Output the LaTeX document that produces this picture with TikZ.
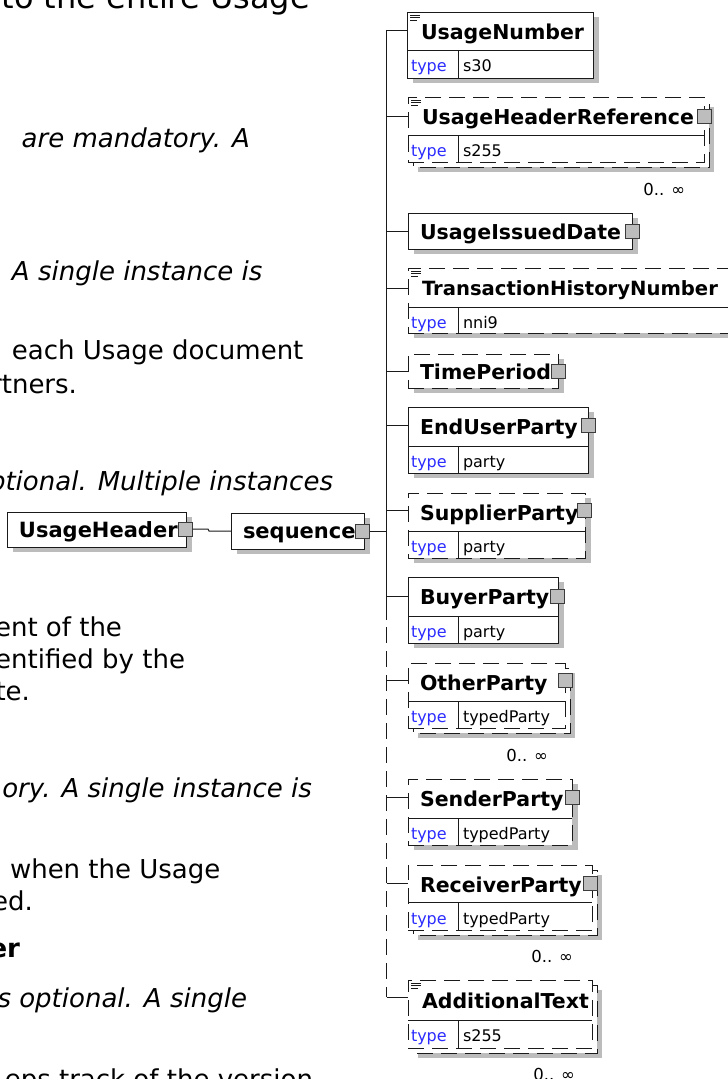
\documentclass[tikz,border=0pt]{standalone}
\usepackage{fontspec}
\setmainfont{DejaVu Sans}
\usetikzlibrary{calc}
\definecolor{shadowc}{HTML}{BCBCBC}
\definecolor{sqfill}{HTML}{BDBDBD}
\definecolor{sqdraw}{HTML}{3C3C3C}
\definecolor{typec}{HTML}{2B2BFF}
\definecolor{linec}{HTML}{1A1A1A}
\tikzset{
 bodyt/.style={font=\fontsize{26}{30}\selectfont, inner sep=0pt, outer sep=0pt},
 bodyl/.style={font=\fontsize{32}{36}\selectfont, inner sep=0pt, outer sep=0pt},
 bodyi/.style={font=\fontsize{26}{30}\selectfont\itshape, inner sep=0pt, outer sep=0pt},
 bodyb/.style={font=\fontsize{26}{30}\selectfont\bfseries, inner sep=0pt, outer sep=0pt},
 boxs/.style={draw=linec, line width=1pt, fill=white, inner sep=0pt, outer sep=0pt},
 boxd/.style={boxs, dash pattern=on 16pt off 8pt},
 dashl/.style={draw=linec, line width=1pt, dash pattern=on 16pt off 8pt},
 conn/.style={draw=linec, line width=1pt},
 ename/.style={font=\fontsize{20.5}{24}\selectfont\bfseries, inner sep=0pt, outer sep=0pt, anchor=base west},
 enames/.style={font=\fontsize{19.6}{24}\selectfont\bfseries, inner sep=0pt, outer sep=0pt, anchor=base west},
 hname/.style={font=\fontsize{21}{24}\selectfont\bfseries, inner sep=0pt, outer sep=0pt, anchor=base west},
 typel/.style={font=\fontsize{16}{18}\selectfont, text=typec, inner sep=0pt, outer sep=0pt, anchor=base west},
 typev/.style={font=\fontsize{16}{18}\selectfont, inner sep=0pt, outer sep=0pt, anchor=base west},
 occ/.style={font=\fontsize{16.5}{18}\selectfont, inner sep=0pt, outer sep=0pt, anchor=base east},
 sq/.style={draw=sqdraw, fill=sqfill, line width=0.9pt, minimum size=14pt, inner sep=0pt, outer sep=0pt},
 icon/.style={draw=linec, line width=0.9pt},
}
\newcommand\mkbox[6]{\node[#6, minimum width={(#4)-(#2)}, minimum height={(#5)-(#3)}] (#1) at ({((#2)+(#4))/2},{((#3)+(#5))/2}) {};}
\newcommand\shad[4]{\fill[shadowc] ({#1+6},{#2+5}) rectangle ({#3+6},{#4+5});}
\newcommand\stackbk[4]{\fill[shadowc] ({#1+10},{#2+10}) rectangle ({#3+10},{#4+10});
  \draw[dashl, fill=white] ({#1+5},{#2+5}) rectangle ({#3+5},{#4+5});}
\newcommand\trow[6]{\draw[conn] (#2,#4) -- (#3,#4); \draw[conn] (458,#4) -- (458,#5);
  \node[typel] (#1-tl) at (411,{#4+21.5}) {type};
  \node[typev] (#1-tv) at (463,{#4+21.5}) {#6};}
\newcommand\docicon[2]{\draw[icon] ({#1+3},{#2+3}) -- ++(10,0) ({#1+3},{#2+5.5}) -- ++(10,0) ({#1+3},{#2+8}) -- ++(7,0);}
\begin{document}
\begin{tikzpicture}[x=1pt,y=-1pt]
\useasboundingbox (0,0) rectangle (728,1079);
\fill[white] (0,0) rectangle (728,1079);
\clip (0,0) rectangle (728,1079);
% left page text fragments
\node[bodyl, anchor=base east] (l1) at (310,8) {to the entire Usage};
\node[bodyi, anchor=base east] (l2) at (250,147) {are mandatory. A};
\node[bodyi, anchor=base west] (l3) at (12,280) {A single instance is};
\node[bodyt, anchor=base west] (l4) at (12,359) {each Usage document};
\node[bodyt, anchor=base east] (l5) at (77,393) {rtners.};
\node[bodyi, anchor=base east] (l6) at (333,490) {ptional. Multiple instances};
\node[bodyt, anchor=base east] (l7) at (122,636) {ent of the};
\node[bodyt, anchor=base east] (l8) at (185,668) {entified by the};
\node[bodyt, anchor=base east] (l9) at (30,700) {te.};
\node[bodyi, anchor=base east] (l10) at (312,797) {ory. A single instance is};
\node[bodyt, anchor=base west] (l11) at (10,878) {when the Usage};
\node[bodyt, anchor=base east] (l12) at (33,910) {ed.};
\node[bodyb, anchor=base east] (l13) at (20,957) {er};
\node[bodyi, anchor=base east] (l14) at (247,1007) {s optional. A single};
\node[bodyt, anchor=base east] (l15) at (313,1088) {eps track of the version};
% spine
\coordinate (sp1) at (386.5,30);
\coordinate (sp2) at (386.5,116);
\coordinate (sp3) at (386.5,231);
\coordinate (sp4) at (386.5,288);
\coordinate (sp5) at (386.5,371);
\coordinate (sp6) at (386.5,425);
\coordinate (spq) at (386.5,531);
\coordinate (sp7) at (386.5,510);
\coordinate (sp8) at (386.5,596);
\coordinate (spm) at (386.5,620);
\coordinate (spd) at (386.5,627);
\coordinate (sp9) at (386.5,680);
\coordinate (sp10) at (386.5,797);
\coordinate (sp11) at (386.5,883);
\coordinate (sp12) at (386.5,997);
\draw[conn] (sp1) -- (spm);
\draw[dashl] (spd) -- (sp12);
% UsageHeader and sequence
\shad{7}{512}{186}{547}
\mkbox{uh}{7}{512}{186}{547}{boxs}
\node[hname] (uh-t) at (19,537) {UsageHeader};
\node[sq] (uh-sq) at (185.5,529) {};
\shad{231}{513}{364}{549}
\mkbox{seq}{231}{513}{364}{549}{boxs}
\node[hname] (seq-t) at (243,538) {sequence};
\node[sq] (seq-sq) at (362.5,531) {};
\draw[conn] (uh-sq.east) -- (208,529) -- (209,531) -- (seq.west);
\draw[conn] (seq-sq.east) -- (spq);
% 1 UsageNumber
\shad{407}{12}{593}{78}
\mkbox{un}{407}{12}{593}{78}{boxs}
\docicon{407}{12}
\node[ename] (un-t) at (421,39.5) {UsageNumber};
\trow{un}{407}{593}{50}{78}{s30}
% 2 UsageHeaderReference
\stackbk{408}{97}{704}{162}
\mkbox{uhr}{408}{97}{704}{162}{boxd}
\docicon{408}{97}
\node[ename] (uhr-t) at (422,124.5) {UsageHeaderReference};
\trow{uhr}{408}{704}{135}{162}{s255}
\node[sq] (uhr-sq) at (704,116) {};
\node[occ] (uhr-o) at (685,195) {0.. ∞};
% 3 UsageIssuedDate
\shad{408}{213}{632}{249}
\mkbox{uid}{408}{213}{632}{249}{boxs}
\node[ename] (uid-t) at (420,239.5) {UsageIssuedDate};
\node[sq] (uid-sq) at (632,231) {};
% 4 TransactionHistoryNumber
\shad{408}{268}{742}{333}
\mkbox{thn}{408}{268}{742}{333}{boxd}
\docicon{408}{268}
\node[enames] (thn-t) at (422,295) {TransactionHistoryNumber};
\trow{thn}{408}{742}{307}{333}{nni9}
% 5 TimePeriod
\shad{408}{354}{558}{388}
\mkbox{tp}{408}{354}{558}{388}{boxd}
\node[ename] (tp-t) at (420,379) {TimePeriod};
\node[sq] (tp-sq) at (558,371) {};
% 6 EndUserParty
\shad{408}{407}{588}{473}
\mkbox{eup}{408}{407}{588}{473}{boxs}
\node[ename] (eup-t) at (420,434) {EndUserParty};
\trow{eup}{408}{588}{446}{473}{party}
\node[sq] (eup-sq) at (588,425) {};
% 7 SupplierParty
\shad{408}{493}{585}{558}
\mkbox{sup}{408}{493}{585}{558}{boxd}
\node[ename] (sup-t) at (420,520) {SupplierParty};
\trow{sup}{408}{585}{531}{558}{party}
\node[sq] (sup-sq) at (584,510) {};
% 8 BuyerParty
\shad{408}{577}{558}{643}
\mkbox{bp}{408}{577}{558}{643}{boxs}
\node[ename] (bp-t) at (420,604.5) {BuyerParty};
\trow{bp}{408}{558}{616}{643}{party}
\node[sq] (bp-sq) at (557,596) {};
% 9 OtherParty
\stackbk{408}{663}{565}{728}
\mkbox{op}{408}{663}{565}{728}{boxd}
\node[ename] (op-t) at (420,690) {OtherParty};
\trow{op}{408}{565}{701}{728}{typedParty}
\node[sq] (op-sq) at (565,680) {};
\node[occ] (op-o) at (548,761) {0.. ∞};
% 10 SenderParty
\shad{408}{779}{572}{845}
\mkbox{snp}{408}{779}{572}{845}{boxd}
\node[ename] (snp-t) at (420,806.5) {SenderParty};
\trow{snp}{408}{572}{818}{845}{typedParty}
\node[sq] (snp-sq) at (572,797) {};
% 11 ReceiverParty
\stackbk{408}{865}{592}{930}
\mkbox{rp}{408}{865}{592}{930}{boxd}
\node[ename] (rp-t) at (420,892) {ReceiverParty};
\trow{rp}{408}{592}{902.7}{930}{typedParty}
\node[sq] (rp-sq) at (590,883) {};
\node[occ] (rp-o) at (573,962) {0.. ∞};
% 12 AdditionalText
\stackbk{408}{980}{592}{1048}
\mkbox{at}{408}{980}{592}{1048}{boxd}
\docicon{408}{980}
\node[ename] (at-t) at (422,1008) {AdditionalText};
\trow{at}{408}{592}{1020}{1048}{s255}
\node[occ] (at-o) at (575,1080) {0.. ∞};
% branches
\draw[conn] (sp1) -- (sp1 -| un.west);
\draw[conn] (sp2) -- (sp2 -| uhr.west);
\draw[conn] (sp3) -- (sp3 -| uid.west);
\draw[conn] (sp4) -- (sp4 -| thn.west);
\draw[conn] (sp5) -- (sp5 -| tp.west);
\draw[conn] (sp6) -- (sp6 -| eup.west);
\draw[conn] (sp7) -- (sp7 -| sup.west);
\draw[conn] (sp8) -- (sp8 -| bp.west);
\draw[conn] (sp9) -- (sp9 -| op.west);
\draw[conn] (sp10) -- (sp10 -| snp.west);
\draw[conn] (sp11) -- (sp11 -| rp.west);
\draw[conn] (sp12) -- (sp12 -| at.west);
\end{tikzpicture}
\end{document}
